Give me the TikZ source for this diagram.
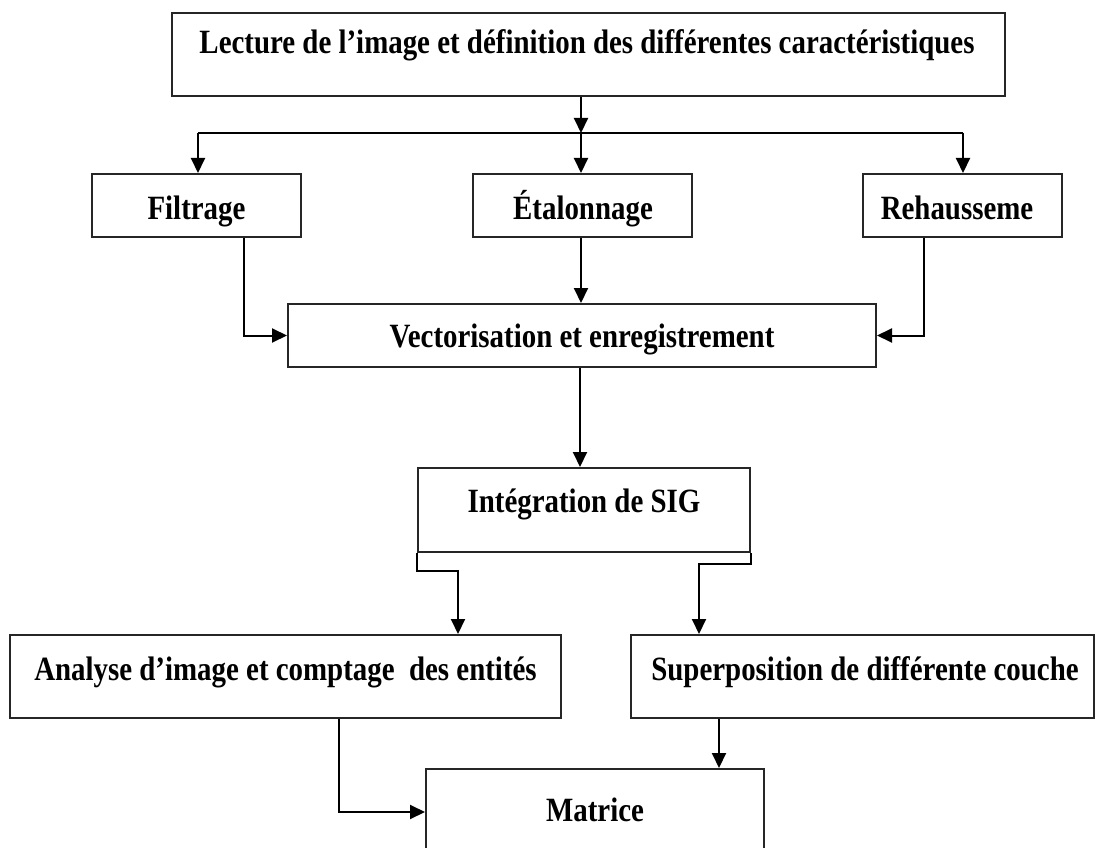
\documentclass[tikz,border=0pt]{standalone}
\usepackage{fontspec}
\setmainfont[FakeStretch=0.85]{Liberation Serif}
\usetikzlibrary{arrows.meta}
\begin{document}
\begin{tikzpicture}[x=1pt,y=-1pt,
  box/.style={draw=black!85, line width=2pt, rectangle, inner sep=0pt},
  txt/.style={font=\fontsize{34}{40}\selectfont\bfseries, inner sep=0pt, anchor=base},
  link/.style={draw=black, line width=2pt},
  arr/.style={link, -{Triangle[width=14pt,length=15pt]}}]
\fill[white] (0,0) rectangle (1098,848);
\useasboundingbox (0,0) rectangle (1098,848);
\clip (0,0) rectangle (1098,848);

% boxes
\node[box, minimum width=833pt, minimum height=83pt] (top)   at (588.5,54.5) {};
\node[box, minimum width=209pt, minimum height=63pt] (filt)  at (196.5,205.5) {};
\node[box, minimum width=219pt, minimum height=63pt] (etal)  at (582.5,205.5) {};
\node[box, minimum width=199pt, minimum height=63pt] (reh)   at (962.5,205.5) {};
\node[box, minimum width=588pt, minimum height=63pt] (vect)  at (582,335.5) {};
\node[box, minimum width=332pt, minimum height=84pt] (integ) at (584,510) {};
\node[box, minimum width=551pt, minimum height=83pt] (anal)  at (285.5,676.5) {};
\node[box, minimum width=463pt, minimum height=83pt] (sup)   at (862.5,676.5) {};
\node[box, minimum width=338pt, minimum height=86pt] (mat)   at (595,812) {};

% labels (placed on their baselines)
\node[txt] (topt)   at (587,54)   {Lecture de l’image et définition des différentes caractéristiques};
\node[txt] (filtt)  at (196.5,219) {Filtrage};
\node[txt] (etalt)  at (583,219)  {Étalonnage};
\node[txt] (reht)   at (957,219)  {Rehausseme};
\node[txt] (vectt)  at (582,347)  {Vectorisation et enregistrement};
\node[txt] (integt) at (584,512)  {Intégration de SIG};
\node[txt] (analt)  at (285.5,680) {Analyse d’image et comptage\ \ des entités};
\node[txt] (supt)   at (865,680)  {Superposition de différente couche};
\node[txt] (matt)   at (595,821)  {Matrice};

% connector positions
\coordinate (bl)  at (198,133);
\coordinate (br)  at (963,133);
\coordinate (hub) at (581,133);
\coordinate (fx)  at (244,0);
\coordinate (rx)  at (924,0);
\coordinate (vx)  at (580,0);
\coordinate (ax)  at (458,0);
\coordinate (sx)  at (699,0);
\coordinate (mx)  at (339,0);
\coordinate (tx)  at (719,0);

% top box to the three processing steps
\draw[arr] (top.south -| hub) -- (hub);
\draw[link] (bl) -- (br);
\draw[arr] (bl) -- (bl |- filt.north);
\draw[arr] (hub) -- (hub |- etal.north);
\draw[arr] (br) -- (br |- reh.north);

% steps into vectorisation
\draw[arr] (fx |- filt.south) |- (vect.west);
\draw[arr] (hub |- etal.south) -- (hub |- vect.north);
\draw[arr] (rx |- reh.south) |- (vect.east);

% vectorisation to GIS integration
\draw[arr] (vx |- vect.south) -- (vx |- integ.north);

% GIS integration to the two analyses
\draw[arr] (integ.south west) -- ++(0,18) -| (ax |- anal.north);
\draw[arr] (integ.south east) -- ++(0,11) -| (sx |- sup.north);

% analyses into the matrix
\draw[arr] (mx |- anal.south) |- (mat.west);
\draw[arr] (tx |- sup.south) -- (tx |- mat.north);
\end{tikzpicture}
\end{document}
